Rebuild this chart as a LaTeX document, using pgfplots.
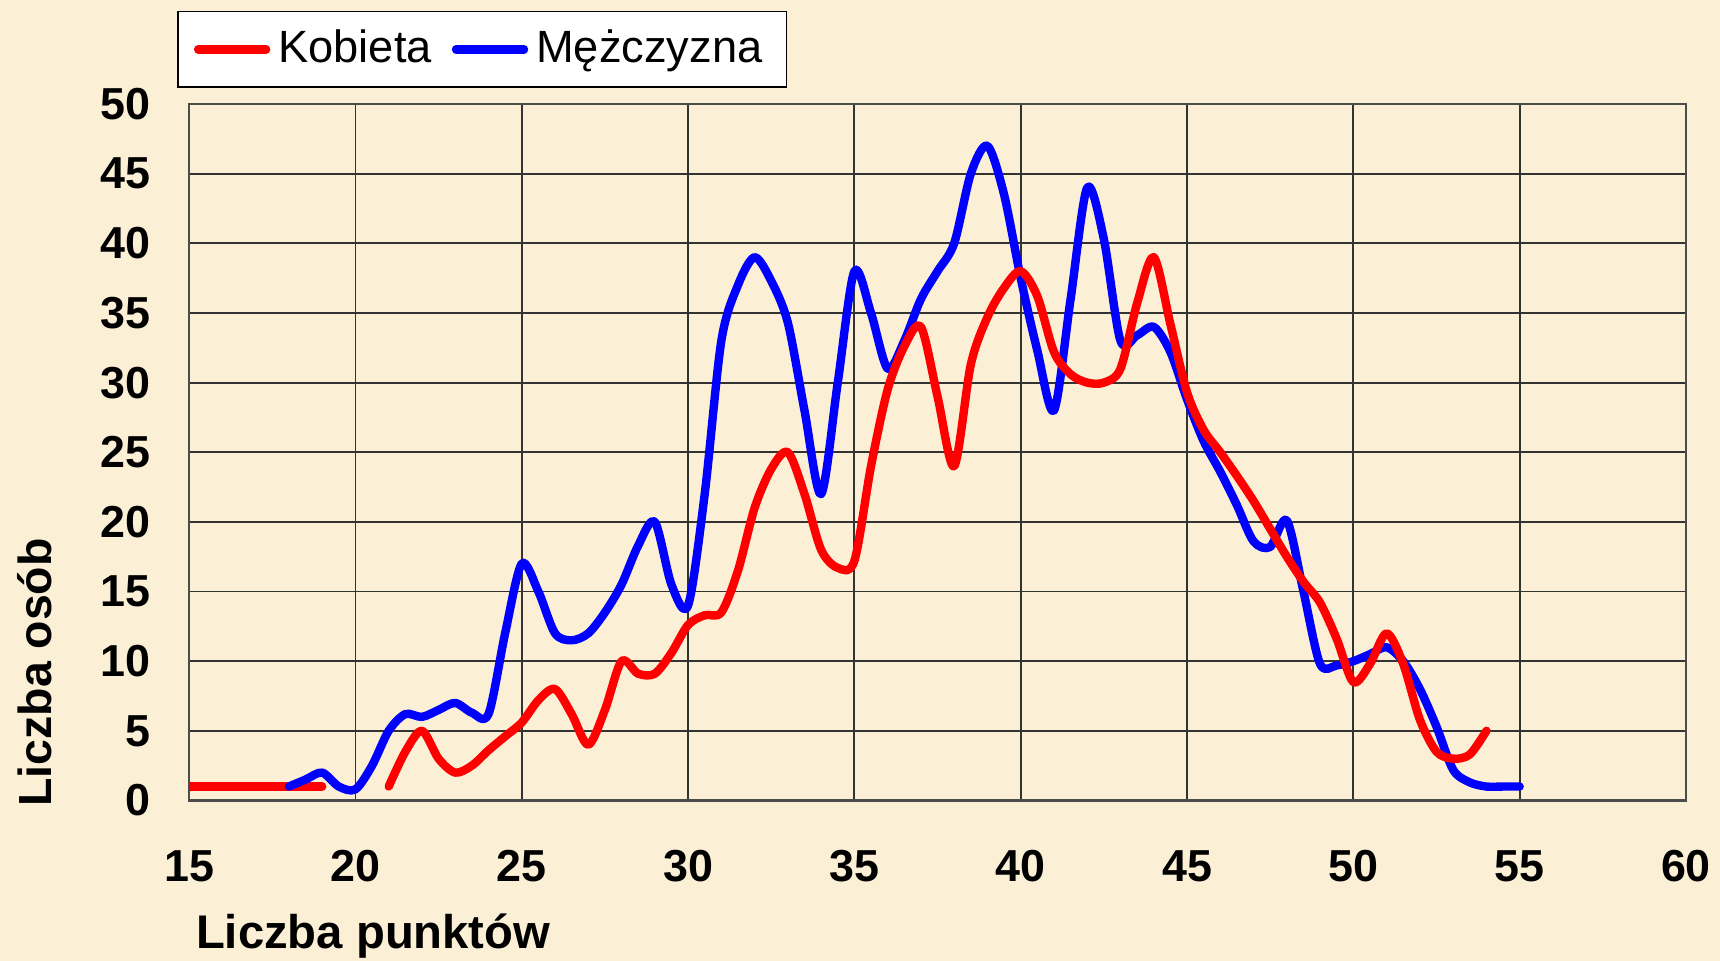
\documentclass[border=0pt]{standalone}
\usepackage{fontspec}
\setmainfont{Liberation Sans}
\usepackage{pgfplots}
\pgfplotsset{compat=1.18}
\definecolor{bg}{RGB}{251,240,214}
\definecolor{kred}{RGB}{255,0,0}
\definecolor{mblue}{RGB}{0,0,255}
\begin{document}
\begin{tikzpicture}
\useasboundingbox (-47.25pt,-40pt) rectangle (382.5pt,200pt);
\fill[bg] (-47.25pt,-40pt) rectangle (382.5pt,200pt);
\begin{axis}[
  at={(0pt,0pt)}, anchor=south west,
  scale only axis, width=374pt, height=174pt,
  xmin=15, xmax=60, ymin=0, ymax=50,
  xtick={15,20,...,60}, ytick={0,5,...,50},
  grid=major,
  major grid style={black!80, line width=0.45pt},
  axis line style={black!70, line width=0.6pt},
  tick style={draw=none},
  /pgf/number format/assume math mode=true,
  ticklabel style={font=\fontsize{11.2}{13}\selectfont\bfseries},
  xticklabel style={yshift=-9pt},
  yticklabel style={xshift=-6.2pt},
  legend style={at={(-0.008,1.134)}, anchor=north west, legend columns=2,
    draw=black, fill=white, font=\fontsize{11.3}{13}\selectfont,
    inner xsep=4pt, inner ysep=2.6pt,
    /tikz/every even column/.append style={column sep=3pt}},
  legend image code/.code={\draw[#1, line cap=round] (0pt,0pt) -- (17pt,0pt);},
]
\addplot[kred, line width=2.1pt, line cap=round, line join=round] coordinates {
(15,1) (16,1) (17,1) (18,1) (19,1)};
\addlegendentry{Kobieta}
\addplot[mblue, line width=2.1pt, line cap=round, line join=round, smooth, tension=0.5] coordinates {
(18,1) (18.5,1.5) (19,2) (19.5,1) (20,0.8) (20.5,2.5) (21,5) (21.5,6.2) (22,6) (22.5,6.5)
(23,7) (23.5,6.3) (24,6.2) (24.5,12) (25,17) (25.5,15) (26,12) (26.5,11.5) (27,12) (27.5,13.5)
(28,15.5) (28.5,18.3) (29,20) (29.5,15.5) (30,14) (30.5,22) (31,33) (31.5,37) (32,39) (32.5,37.3)
(33,34.3) (33.5,28) (34,22) (34.5,30) (35,38) (35.5,35) (36,31) (36.5,33) (37,36) (37.5,38)
(38,40) (38.5,45) (39,47) (39.5,43.5) (40,37.5) (40.5,32.3) (41,28) (41.5,36) (42,44) (42.5,40.3)
(43,33) (43.5,33.4) (44,34) (44.5,32.2) (45,28.8) (45.5,25.8) (46,23.6) (46.5,21.2) (47,18.6) (47.5,18.2)
(48,20.1) (48.5,15) (49,9.8) (49.5,9.7) (50,10) (50.5,10.5) (51,11) (51.5,10) (52,8) (52.5,5.3)
(53,2.2) (53.5,1.3) (54,1) (54.5,1) (55,1)};
\addlegendentry{Mężczyzna}
\addplot[kred, line width=2.1pt, line cap=round, line join=round, smooth, tension=0.5, forget plot] coordinates {
(21,1) (21.5,3.5) (22,5) (22.5,3) (23,2) (23.5,2.5) (24,3.6) (24.5,4.6) (25,5.6) (25.5,7.2)
(26,8) (26.5,6.2) (27,4) (27.5,6.5) (28,10) (28.5,9.1) (29,9.1) (29.5,10.6) (30,12.6) (30.5,13.3)
(31,13.5) (31.5,16.5) (32,21) (32.5,23.8) (33,25) (33.5,22) (34,18) (34.5,16.7) (35,17.2) (35.5,24)
(36,29.5) (36.5,32.6) (37,34) (37.5,29) (38,24) (38.5,31.3) (39,34.7) (39.5,36.8) (40,38) (40.5,36.2)
(41,32.2) (41.5,30.6) (42,30) (42.5,30) (43,31) (43.5,35.7) (44,39) (44.5,34.2) (45,29.3) (45.5,26.6)
(46,25) (46.5,23.3) (47,21.5) (47.5,19.5) (48,17.5) (48.5,15.7) (49,14.2) (49.5,11.6) (50,8.5) (50.5,9.8)
(51,12) (51.5,9.8) (52,5.8) (52.5,3.5) (53,3) (53.5,3.3) (54,5)};
\end{axis}
\node[inner sep=0pt, font=\fontsize{11.8}{13}\selectfont\bfseries] at (46pt,-34pt) {Liczba punktów};
\node[inner sep=0pt, font=\fontsize{11.6}{13}\selectfont\bfseries, rotate=90] at (-38.5pt,32pt) {Liczba osób};
\end{tikzpicture}
\end{document}
